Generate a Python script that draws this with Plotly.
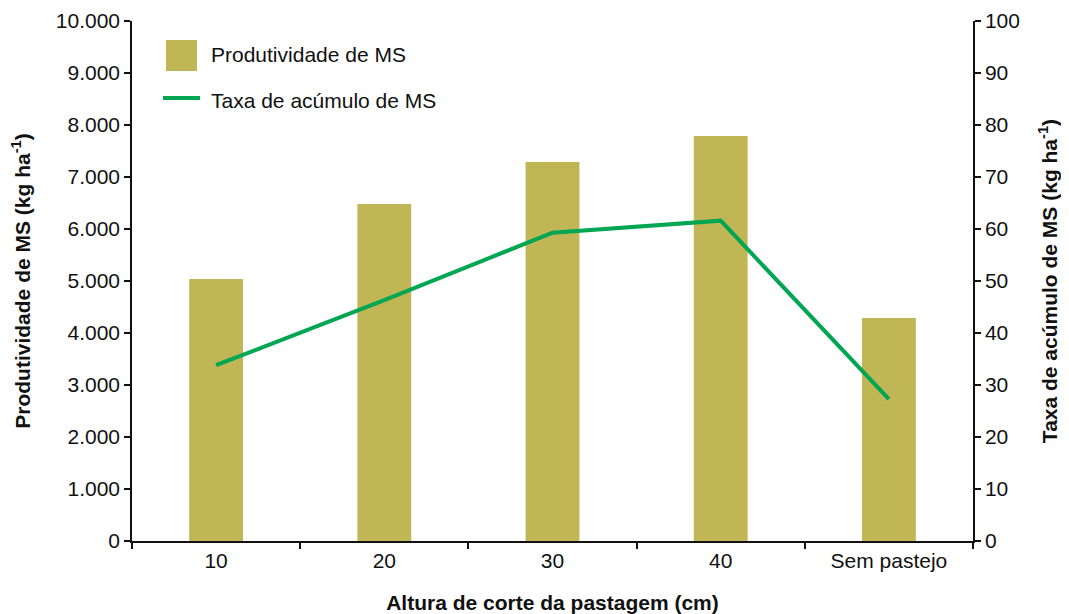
import plotly.graph_objects as go

categories = ["10", "20", "30", "40", "Sem pastejo"]
produtividade = [5040, 6480, 7290, 7790, 4290]
taxa_acumulo = [33.8, 46.3, 59.3, 61.6, 27.3]
left_ticks = [0, 1000, 2000, 3000, 4000, 5000, 6000, 7000, 8000, 9000, 10000]
right_ticks = [0, 10, 20, 30, 40, 50, 60, 70, 80, 90, 100]

BAR_COLOR = "#C1B655"
LINE_COLOR = "#00A651"
FONT = "Liberation Sans, Arial, sans-serif"
FS = 21

fig = go.Figure()
fig.add_trace(go.Bar(x=categories, y=produtividade, marker=dict(color=BAR_COLOR, line=dict(width=0)),
                     width=0.32, name="Produtividade de MS", showlegend=False))
fig.add_trace(go.Scatter(x=categories, y=taxa_acumulo, mode="lines", yaxis="y2",
                         line=dict(color=LINE_COLOR, width=4), name="Taxa de acúmulo de MS",
                         showlegend=False))

# page offset of the figure div (default body margin)
OFF = 8
W, H = 1069 - OFF, 614 - OFF
# plot area geometry in page px: left 132, right 973, top 21, bottom 541
L, R, T, B = 132, 973, 21, 541
def px(x):
    return (x - L) / (R - L)
def py(y):
    return (B - y) / (B - T)

axis_common = dict(showline=True, linecolor="#111111", linewidth=1.5,
                   ticks="outside", ticklen=6, tickwidth=1.5, tickcolor="#111111",
                   tickfont=dict(size=FS), showgrid=False, zeroline=False)

fig.update_layout(
    width=W, height=H,
    margin=dict(l=L - OFF, r=W - (R - OFF), t=T - OFF, b=H - (B - OFF), autoexpand=False),
    plot_bgcolor="white", paper_bgcolor="white",
    separators=",.",
    font=dict(family=FONT, size=FS, color="#111111"),
    xaxis=dict(
        type="category", tickson="boundaries",
        title=dict(text="<b>Altura de corte da pastagem (cm)</b>", font=dict(size=FS), standoff=24),
        **axis_common,
    ),
    yaxis=dict(
        range=[0, 10000], tickvals=left_ticks, tickformat=",d",
        title=dict(text="<b>Produtividade de MS (kg ha<sup>-1</sup>)</b>", font=dict(size=FS), standoff=20),
        **axis_common,
    ),
    yaxis2=dict(
        range=[0, 100], tickvals=right_ticks, overlaying="y", side="right",
        title=dict(text="<b>Taxa de acúmulo de MS (kg ha<sup>-1</sup>)</b>", font=dict(size=FS), standoff=23),
        **axis_common,
    ),
)

# legend drawn manually to match the large symbols
fig.add_shape(type="rect", xref="paper", yref="paper",
              x0=px(166), x1=px(197), y0=py(71), y1=py(40),
              fillcolor=BAR_COLOR, line=dict(width=0))
fig.add_shape(type="line", xref="paper", yref="paper",
              x0=px(163), x1=px(200), y0=py(98), y1=py(98),
              line=dict(color=LINE_COLOR, width=4))
fig.add_annotation(xref="paper", yref="paper", x=px(209), y=py(55), text="Produtividade de MS",
                   showarrow=False, xanchor="left", yanchor="middle", font=dict(size=FS))
fig.add_annotation(xref="paper", yref="paper", x=px(209), y=py(100), text="Taxa de acúmulo de MS",
                   showarrow=False, xanchor="left", yanchor="middle", font=dict(size=FS))

fig.write_html("out.html")
